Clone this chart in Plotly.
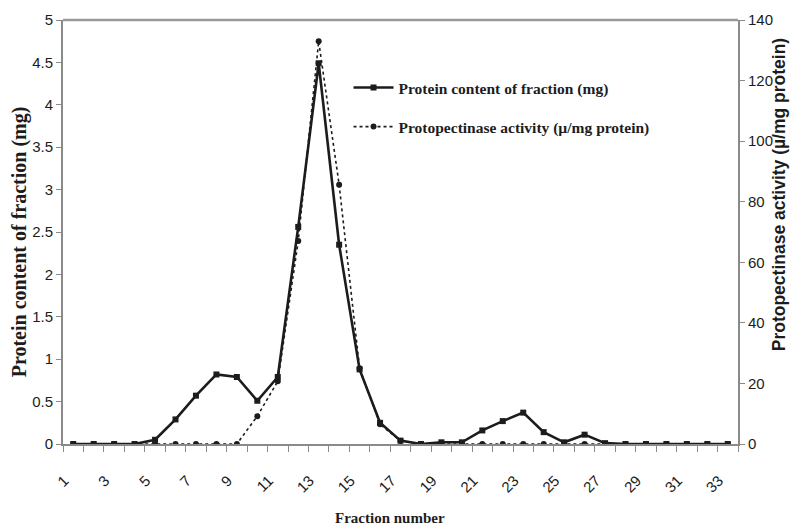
import plotly.graph_objects as go

fractions = list(range(1, 34))
protein_mg = [0, 0, 0, 0, 0.05, 0.29, 0.57, 0.82, 0.79, 0.51, 0.79, 2.56, 4.49, 2.35, 0.88,
              0.25, 0.04, 0, 0.02, 0.02, 0.16, 0.27, 0.37, 0.14, 0.02, 0.11, 0.01,
              0, 0, 0, 0, 0, 0]
activity = [0, 0, 0, 0, 0, 0, 0, 0, 0, 9.2, 20.7, 67, 133, 85.6, 25, 6.5, 1,
            0, 0, 0, 0, 0, 0, 0, 0, 0, 0, 0, 0, 0, 0, 0, 0]
x_tick_vals = list(range(1, 34, 2))
x_tick_text = [str(v) for v in x_tick_vals]
left_ticks = [0, 0.5, 1, 1.5, 2, 2.5, 3, 3.5, 4, 4.5, 5]
right_ticks = [0, 20, 40, 60, 80, 100, 120, 140]

serif = "Liberation Serif"
sans = "Liberation Sans"
ink = "#1c1c1c"
axis_gray = "#8a8a8a"

fig = go.Figure()
fig.add_trace(go.Scatter(
    x=fractions, y=activity, yaxis="y2", mode="lines+markers",
    name="<b>Protopectinase activity (\u00b5/mg protein)</b>",
    line=dict(color=ink, width=1.6, dash="dot"),
    marker=dict(symbol="circle", size=6, color=ink),
    legendgroup="b", legendrank=2,
))
fig.add_trace(go.Scatter(
    x=fractions, y=protein_mg, mode="lines+markers",
    name="<b>Protein content of fraction (mg)</b>",
    line=dict(color=ink, width=2.6),
    marker=dict(symbol="square", size=6, color=ink),
    legendgroup="a", legendrank=1,
))

fig.update_layout(
    width=790, height=526,
    margin=dict(l=63, r=52, t=20, b=82),
    paper_bgcolor="white", plot_bgcolor="white",
    showlegend=True,
    legend=dict(
        x=0.423, y=0.88, xanchor="left", yanchor="top",
        bgcolor="rgba(0,0,0,0)", traceorder="grouped", tracegroupgap=16,
        font=dict(family=serif, size=15.5, color=ink),
        itemwidth=40,
    ),
    xaxis=dict(
        range=[0.5, 33.5], tickmode="array", tickvals=x_tick_vals, ticktext=x_tick_text,
        tickangle=-45, ticks="", showgrid=False, zeroline=False,
        showline=True, linecolor=axis_gray, linewidth=2, mirror=False,
        tickfont=dict(family=sans, size=15, color=ink),
        ticklabelstandoff=20, ticklabelshift=-9,
        minor=dict(tickmode="linear", tick0=0.5, dtick=1, ticks="outside", ticklen=6,
                   tickwidth=1, tickcolor=axis_gray, showgrid=False),
        automargin=False,
    ),
    yaxis=dict(
        range=[0, 5], tickmode="array", tickvals=left_ticks,
        ticktext=[("%g" % v) for v in left_ticks],
        ticks="outside", ticklen=5, tickcolor=axis_gray, tickwidth=1,
        showgrid=False, zeroline=False,
        showline=True, linecolor=axis_gray, linewidth=2,
        tickfont=dict(family=sans, size=15, color=ink),
        automargin=False,
    ),
    yaxis2=dict(
        range=[0, 140], overlaying="y", side="right", anchor="x",
        tickmode="array", tickvals=right_ticks,
        ticks="outside", ticklen=5, tickcolor=axis_gray, tickwidth=1,
        showgrid=False, zeroline=False,
        showline=True, linecolor=axis_gray, linewidth=2,
        tickfont=dict(family=sans, size=15, color=ink),
        automargin=False,
    ),
    annotations=[
        dict(text="<b>Fraction number</b>", xref="paper", yref="paper",
             x=0.484, y=-0.175, xanchor="center", yanchor="middle",
             showarrow=False, font=dict(family=serif, size=15, color=ink)),
        dict(text="<b>Protein content of fraction (mg)</b>", xref="paper", yref="paper",
             x=-0.065, y=0.476, xanchor="center", yanchor="middle", textangle=-90,
             showarrow=False, font=dict(family=serif, size=20, color=ink)),
        dict(text="<b>Protopectinase activity (\u00b5/mg protein)</b>", xref="paper", yref="paper",
             x=1.061, y=0.587, xanchor="center", yanchor="middle", textangle=-90,
             showarrow=False, font=dict(family=sans, size=17.5, color=ink)),
    ],
    shapes=[dict(type="line", xref="paper", yref="paper", x0=0, x1=1, y0=1, y1=1,
                 line=dict(color="#9a9a9a", width=2.5))],
)

fig.write_html("out.html")
